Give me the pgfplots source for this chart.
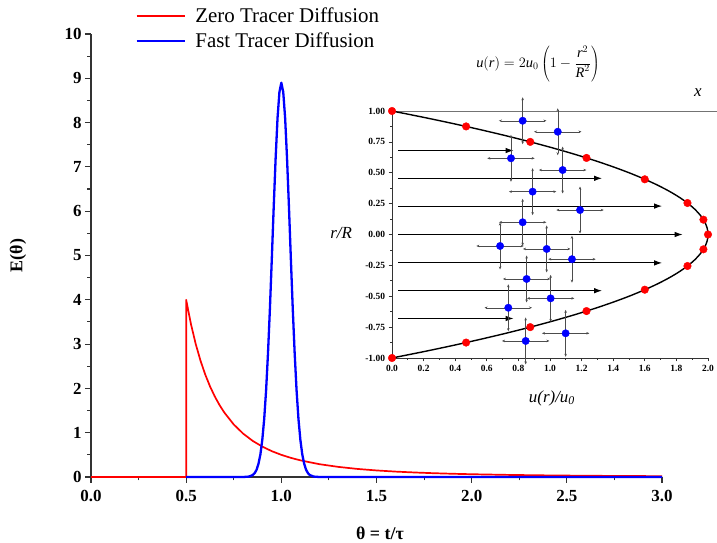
\documentclass[border=0pt]{standalone}
\usepackage{fontspec}
\setmainfont{Liberation Serif}
\usepackage{pgfplots}
\pgfplotsset{compat=1.18}
\usetikzlibrary{arrows.meta}

\begin{document}
\begin{tikzpicture}
\path[use as bounding box] (0,0) rectangle (717bp,543bp);
\begin{axis}[
 at={(91bp,66bp)}, anchor=south west,
 scale only axis, width=571bp, height=443bp,
 xmin=0, xmax=3, ymin=0, ymax=10,
 axis lines=left, axis line style={-, line width=1.3bp, black!80},
 xtick={0,0.5,1,1.5,2,2.5,3}, ytick={0,1,2,3,4,5,6,7,8,9,10},
 minor x tick num=1, minor y tick num=1,
 tick align=outside,
 major tick length=6bp, minor tick length=3.5bp,
 tick style={line width=1.1bp, black!80},
 /pgf/number format/assume math mode=true,
 tick label style={font=\fontsize{17}{17}\selectfont\bfseries},
 xticklabel style={yshift=-4bp, /pgf/number format/.cd, fixed, fixed zerofill, precision=1},
 yticklabel style={/pgf/number format/.cd, fixed, precision=0},
 xlabel={θ = t/τ}, ylabel={E(θ)},
 label style={font=\fontsize{18}{18}\selectfont\bfseries},
 xlabel style={at={(axis description cs:0.506,-0.126)}, anchor=center},
 ylabel style={at={(axis description cs:-0.128,0.5)}, anchor=center},
 legend style={at={(axis description cs:0.078,1.0705)}, anchor=north west, draw=none, fill=none,
   inner sep=0pt, font=\fontsize{21}{21}\selectfont, row sep=0pt, nodes={inner sep=4.5pt}},
 legend cell align=left,
 clip=false,
]
\addplot[red, line width=1.7bp, line join=round,
 legend image code/.code={\draw[draw=red, line width=2bp] (0bp,0bp) -- (48bp,0bp); \path (53bp,0bp);}]
 coordinates {
(0,0) (0.5,0) (0.5,4) (0.525,3.455) (0.55,3.005) (0.575,2.63) (0.6,2.315) (0.625,2.048)
(0.65,1.821) (0.675,1.626) (0.7,1.458) (0.75,1.185) (0.8,0.977) (0.85,0.814) (0.9,0.686)
(0.95,0.583) (1.0,0.5) (1.05,0.432) (1.1,0.376) (1.2,0.289) (1.3,0.228) (1.4,0.182)
(1.5,0.148) (1.6,0.122) (1.7,0.102) (1.8,0.0857) (1.9,0.0729) (2.0,0.0625) (2.2,0.047)
(2.4,0.0362) (2.6,0.0284) (2.8,0.0228) (3.0,0.0185)};
\addlegendentry{Zero Tracer Diffusion}
\addplot[blue, line width=2.3bp, line join=round,
 legend image code/.code={\draw[draw=blue, line width=2bp] (0bp,0bp) -- (48bp,0bp); \path (53bp,0bp);}]
 coordinates {
(0.5,0) (0.8,0) (0.83,0.0096) (0.85,0.044) (0.86,0.087) (0.87,0.164) (0.88,0.30)
(0.89,0.51) (0.90,0.84) (0.91,1.31) (0.92,1.96) (0.93,2.80) (0.94,3.80) (0.95,4.93)
(0.96,6.10) (0.97,7.19) (0.98,8.10) (0.99,8.69) (1.0,8.9) (1.01,8.69) (1.02,8.10)
(1.03,7.19) (1.04,6.10) (1.05,4.93) (1.06,3.80) (1.07,2.80) (1.08,1.96) (1.09,1.31)
(1.10,0.84) (1.11,0.51) (1.12,0.30) (1.13,0.164) (1.14,0.087) (1.15,0.044) (1.17,0.0096)
(1.2,0) (3.0,0)};
\addlegendentry{Fast Tracer Diffusion}
\end{axis}

\begin{axis}[
 at={(392bp,185bp)}, anchor=south west,
 scale only axis, width=316bp, height=247bp,
 xmin=0, xmax=2, ymin=-1, ymax=1,
 axis lines=left, axis line style={-, line width=0.9bp, black!80},
 xtick={0,0.2,0.4,0.6,0.8,1.0,1.2,1.4,1.6,1.8,2.0},
 ytick={-1,-0.75,-0.5,-0.25,0,0.25,0.5,0.75,1},
 minor x tick num=1, minor y tick num=1,
 tick align=outside,
 major tick length=3.5bp, minor tick length=2bp,
 tick style={line width=0.7bp, black!80},
 /pgf/number format/assume math mode=true,
 tick label style={font=\fontsize{9.5}{9.5}\selectfont\bfseries},
 xticklabel style={/pgf/number format/.cd, fixed, fixed zerofill, precision=1},
 yticklabel style={/pgf/number format/.cd, fixed, fixed zerofill, precision=2},
 clip=false,
]
\addplot[black!55, line width=0.6bp] coordinates {(0,1) (2.06,1)};
\addplot[black, line width=1.4bp, smooth] coordinates {
(0,-1) (0.195,-0.95) (0.38,-0.9) (0.555,-0.85) (0.72,-0.8) (0.875,-0.75) (1.02,-0.7)
(1.155,-0.65) (1.28,-0.6) (1.395,-0.55) (1.5,-0.5) (1.595,-0.45) (1.68,-0.4) (1.755,-0.35)
(1.82,-0.3) (1.875,-0.25) (1.92,-0.2) (1.955,-0.15) (1.98,-0.1) (1.995,-0.05) (2,0)
(1.995,0.05) (1.98,0.1) (1.955,0.15) (1.92,0.2) (1.875,0.25) (1.82,0.3) (1.755,0.35)
(1.68,0.4) (1.595,0.45) (1.5,0.5) (1.395,0.55) (1.28,0.6) (1.155,0.65) (1.02,0.7)
(0.875,0.75) (0.72,0.8) (0.555,0.85) (0.38,0.9) (0.195,0.95) (0,1)};
% velocity arrows
\addplot[black, line width=1.1bp, -{Latex[length=8bp,width=5.5bp]}] coordinates {(0.04,0.68) (0.77,0.68)};
\addplot[black, line width=1.1bp, -{Latex[length=8bp,width=5.5bp]}] coordinates {(0.04,0.455) (1.33,0.455)};
\addplot[black, line width=1.1bp, -{Latex[length=8bp,width=5.5bp]}] coordinates {(0.04,0.23) (1.71,0.23)};
\addplot[black, line width=1.1bp, -{Latex[length=8bp,width=5.5bp]}] coordinates {(0.04,0) (1.84,0)};
\addplot[black, line width=1.1bp, -{Latex[length=8bp,width=5.5bp]}] coordinates {(0.04,-0.23) (1.71,-0.23)};
\addplot[black, line width=1.1bp, -{Latex[length=8bp,width=5.5bp]}] coordinates {(0.04,-0.455) (1.33,-0.455)};
\addplot[black, line width=1.1bp, -{Latex[length=8bp,width=5.5bp]}] coordinates {(0.04,-0.68) (0.77,-0.68)};
% red points on the profile
\addplot[only marks, mark=*, mark size=3.8bp, color=red, mark options={fill=red, draw=red}] coordinates {
(0,1) (0.469,0.875) (0.875,0.75) (1.231,0.62) (1.6,0.447) (1.87,0.255) (1.971,0.12) (2,0)
(1.971,-0.12) (1.87,-0.255) (1.6,-0.447) (1.231,-0.62) (0.875,-0.75) (0.469,-0.875) (0,-1)};
% blue tracer particles with error bars
\addplot[only marks, mark=*, mark size=3.7bp, color=blue, mark options={fill=blue, draw=blue},
 error bars/.cd, x dir=both, x fixed=0.15, y dir=both, y fixed=0.19, error mark=none,
 error bar style={line width=0.45bp, black!70, {Stealth[length=3bp,width=2.5bp]}-{Stealth[length=3bp,width=2.5bp]}}]
coordinates {
(0.827,0.921) (1.049,0.832) (0.753,0.617) (1.08,0.522) (0.89,0.347) (1.19,0.198)
(0.827,0.099) (0.684,-0.093) (0.979,-0.117) (1.139,-0.2) (0.852,-0.36) (1.004,-0.517)
(0.736,-0.593) (1.099,-0.8) (0.846,-0.862)};
\node[font=\fontsize{17}{17}\selectfont\itshape] at (axis description cs:-0.161,0.506) {r/R};
\node[font=\fontsize{17}{17}\selectfont\itshape] at (axis description cs:0.506,-0.162) {u(r)/u\textsubscript{0}};
\node[font=\fontsize{17}{17}\selectfont\itshape] at (axis description cs:0.968,1.073) {x};
\node[font=\fontsize{14.5}{14.5}\selectfont] at (axis description cs:0.462,1.19)
 {$\displaystyle \textit{u}(\textit{r}) = 2\textit{u}_0\left(1-\frac{\textit{r}^2}{\textit{R}^2}\right)$};
\end{axis}
\end{tikzpicture}
\end{document}
